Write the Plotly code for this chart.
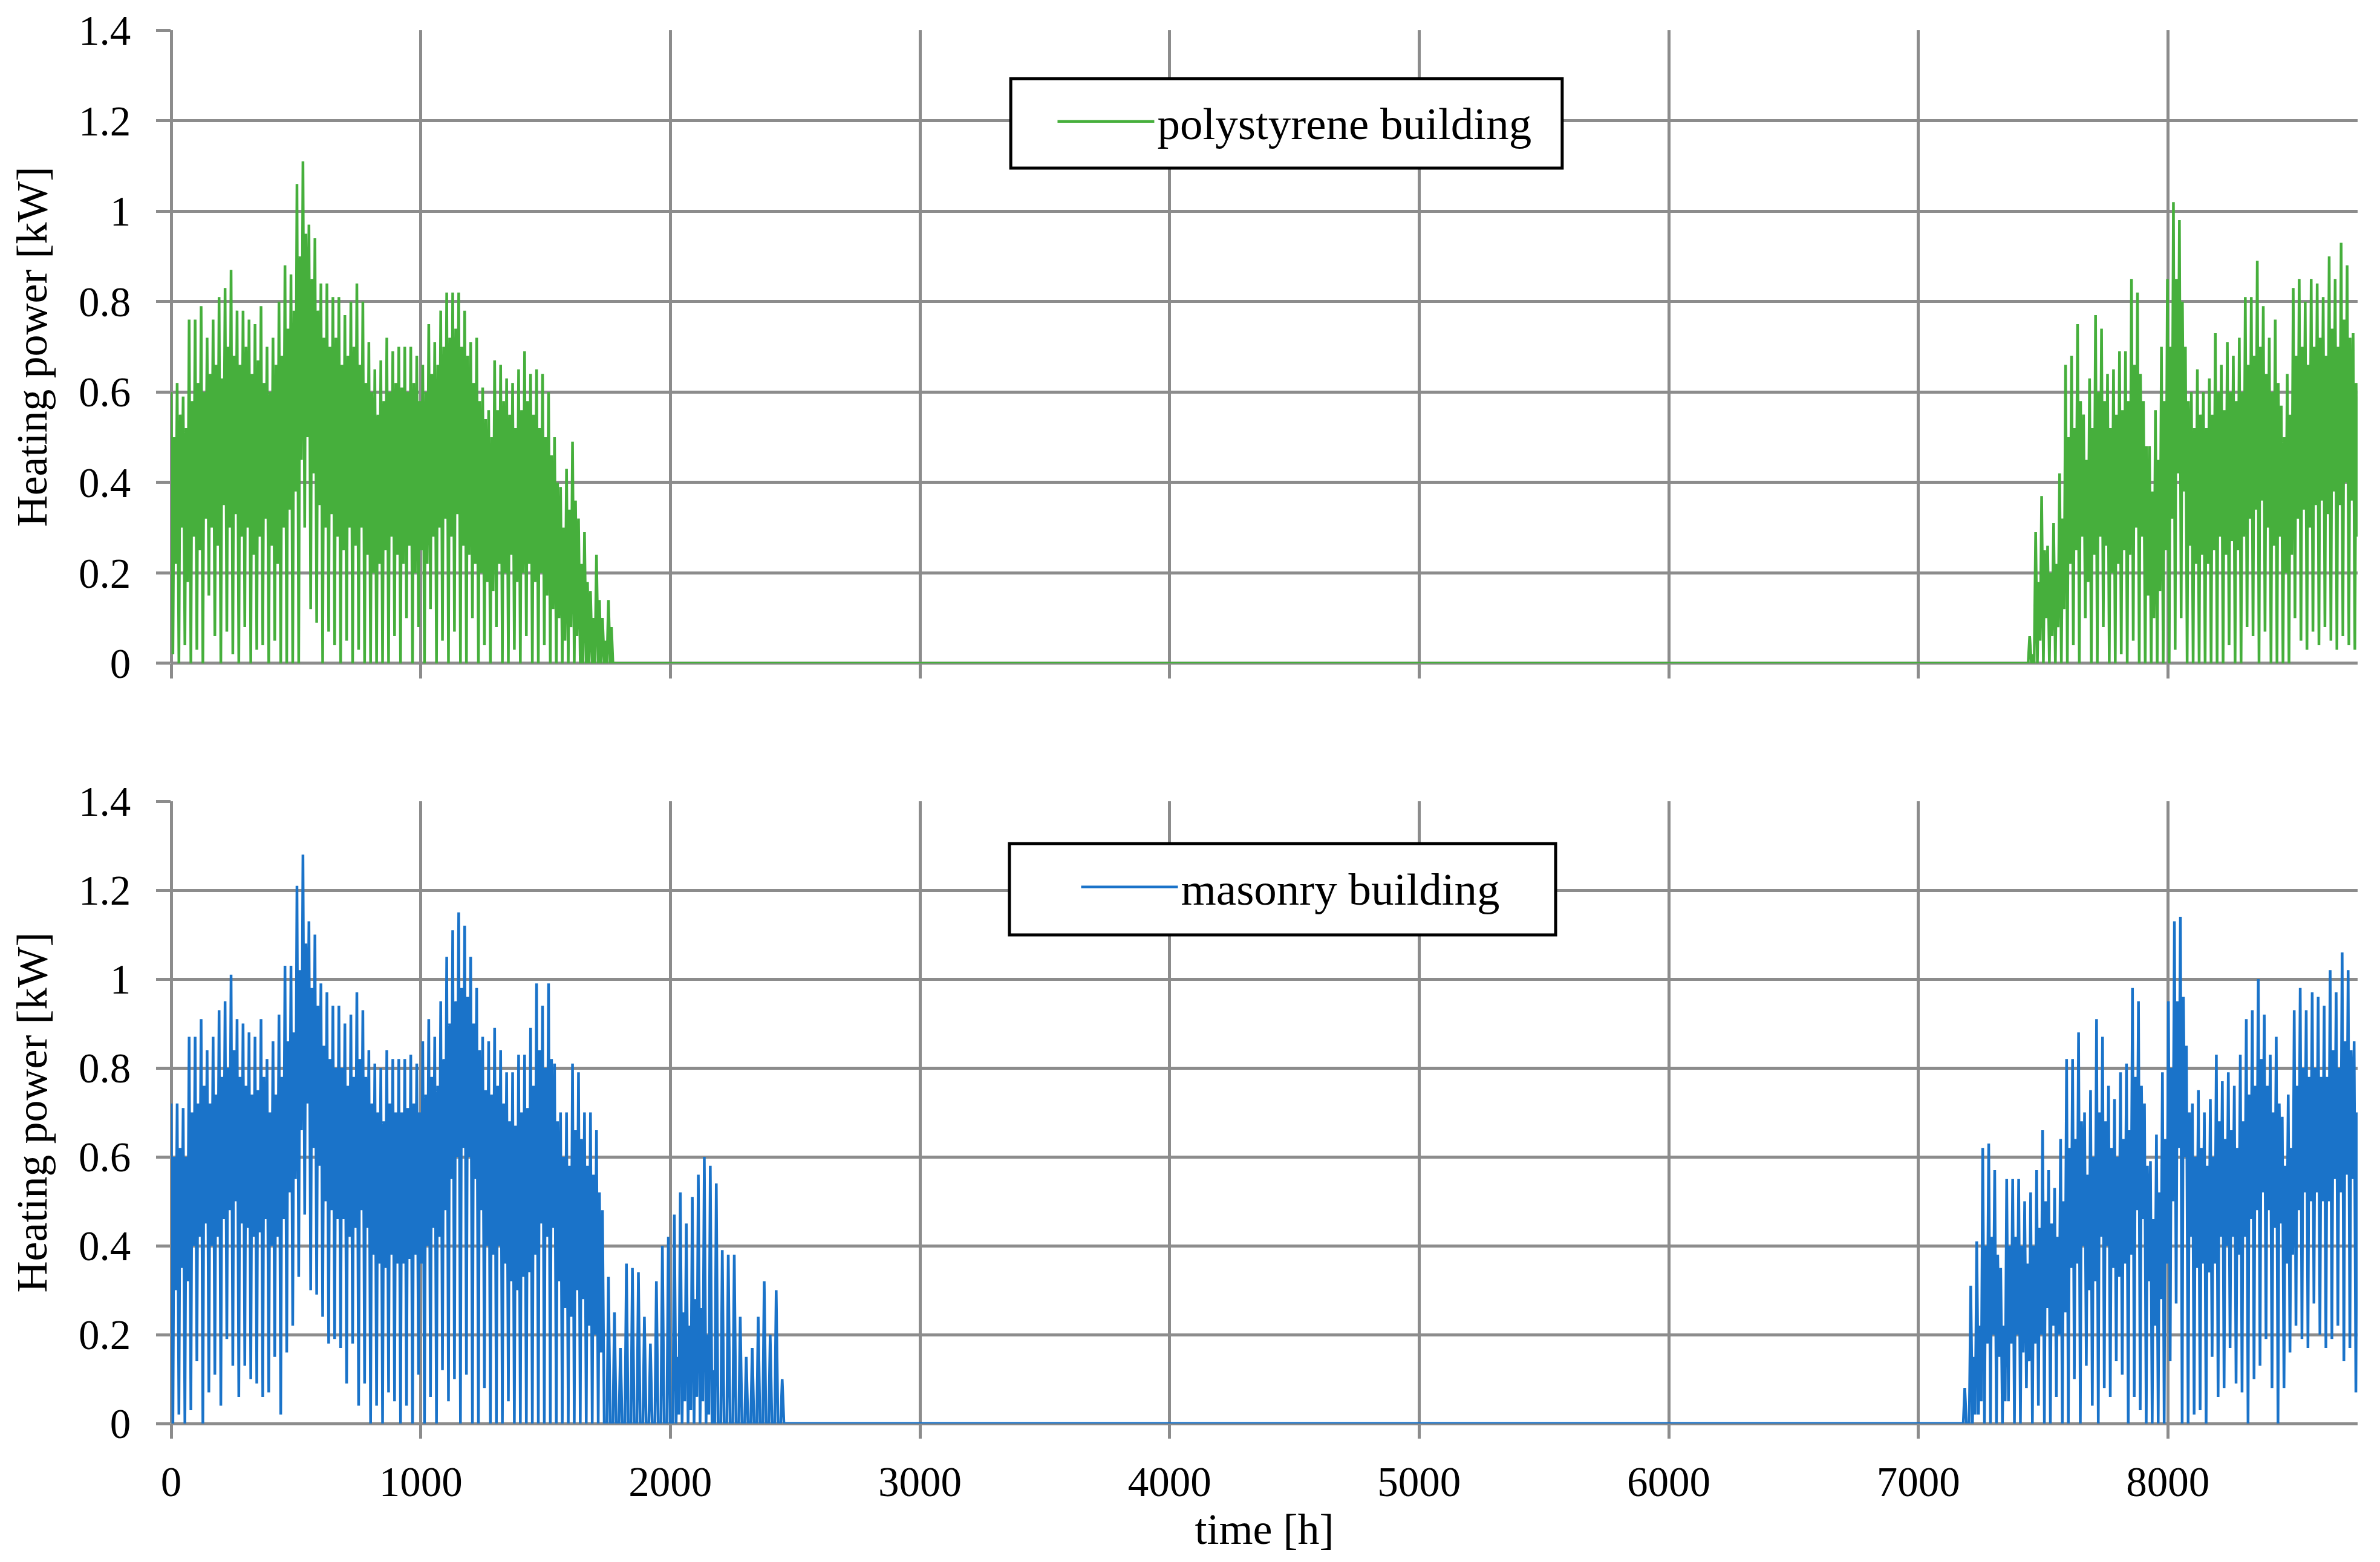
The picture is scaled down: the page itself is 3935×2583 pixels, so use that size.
import plotly.graph_objects as go

# ---------------- data ----------------
YEAR_END_H = 8760
X_TICKS = [0, 1000, 2000, 3000, 4000, 5000, 6000, 7000, 8000]
Y_TICKS = [0, 0.2, 0.4, 0.6, 0.8, 1.0, 1.2, 1.4]

# Each heating day is described by four readings [kW]:
# main peak, main dip, second (smaller) peak, second dip.
poly_season_starts = [0, 7446]
poly_peak1_winter = [
    0.60, 0.62, 0.59, 0.76, 0.76, 0.79, 0.72, 0.76, 0.81, 0.83,
    0.87, 0.78, 0.78, 0.76, 0.75, 0.79, 0.70, 0.72, 0.80, 0.88,
    0.86, 1.06, 1.11, 0.97, 0.94, 0.84, 0.84, 0.81, 0.81, 0.77,
    0.80, 0.84, 0.80, 0.71, 0.65, 0.67, 0.72, 0.69, 0.70, 0.70,
    0.70, 0.68, 0.66, 0.75, 0.71, 0.78, 0.82, 0.82, 0.82, 0.78,
    0.71, 0.72, 0.61, 0.56, 0.67, 0.66, 0.63, 0.62, 0.65, 0.69,
    0.64, 0.65, 0.64, 0.60, 0.50, 0.39, 0.43, 0.49, 0.32, 0.29,
    0.16, 0.24, 0.10, 0.14]
poly_dip1_winter = [
    0.02, 0.00, 0.04, 0.00, 0.03, 0.00, 0.15, 0.06, 0.00, 0.07,
    0.02, 0.00, 0.08, 0.00, 0.03, 0.04, 0.00, 0.05, 0.00, 0.00,
    0.00, 0.00, 0.30, 0.12, 0.09, 0.00, 0.07, 0.04, 0.00, 0.05,
    0.00, 0.03, 0.00, 0.00, 0.00, 0.00, 0.00, 0.06, 0.00, 0.10,
    0.00, 0.08, 0.00, 0.12, 0.00, 0.05, 0.00, 0.07, 0.00, 0.00,
    0.10, 0.00, 0.04, 0.00, 0.08, 0.00, 0.00, 0.03, 0.00, 0.06,
    0.00, 0.00, 0.04, 0.00, 0.00, 0.00, 0.00, 0.00, 0.00, 0.00,
    0.00, 0.00, 0.00, 0.00]
poly_peak2_winter = [
    0.50, 0.55, 0.52, 0.58, 0.62, 0.60, 0.64, 0.66, 0.63, 0.70,
    0.68, 0.66, 0.70, 0.64, 0.67, 0.62, 0.60, 0.66, 0.68, 0.74,
    0.78, 0.90, 0.95, 0.85, 0.78, 0.72, 0.70, 0.72, 0.66, 0.68,
    0.70, 0.66, 0.62, 0.60, 0.55, 0.58, 0.60, 0.62, 0.61, 0.60,
    0.62, 0.58, 0.60, 0.64, 0.66, 0.70, 0.72, 0.74, 0.70, 0.68,
    0.62, 0.58, 0.54, 0.50, 0.56, 0.58, 0.55, 0.52, 0.56, 0.58,
    0.55, 0.52, 0.50, 0.46, 0.40, 0.30, 0.34, 0.36, 0.22, 0.18,
    0.10, 0.14, 0.05, 0.08]
poly_dip2_winter = [
    0.22, 0.30, 0.18, 0.28, 0.25, 0.32, 0.30, 0.26, 0.35, 0.30,
    0.33, 0.28, 0.30, 0.24, 0.28, 0.32, 0.26, 0.22, 0.30, 0.34,
    0.38, 0.45, 0.50, 0.42, 0.35, 0.30, 0.33, 0.28, 0.25, 0.30,
    0.26, 0.30, 0.24, 0.20, 0.22, 0.25, 0.28, 0.24, 0.22, 0.26,
    0.20, 0.25, 0.22, 0.28, 0.30, 0.32, 0.28, 0.33, 0.26, 0.24,
    0.22, 0.20, 0.18, 0.16, 0.22, 0.20, 0.24, 0.18, 0.20, 0.22,
    0.18, 0.20, 0.15, 0.12, 0.10, 0.05, 0.08, 0.06, 0.00, 0.00,
    0.00, 0.00, 0.00, 0.00]
poly_peak1_autumn = [
    0.06, 0.29, 0.37, 0.26, 0.31, 0.42, 0.66, 0.68, 0.75, 0.55,
    0.63, 0.77, 0.74, 0.64, 0.65, 0.69, 0.69, 0.85, 0.82, 0.58,
    0.48, 0.56, 0.70, 0.85, 1.02, 0.98, 0.70, 0.60, 0.65, 0.60,
    0.63, 0.73, 0.66, 0.71, 0.68, 0.72, 0.81, 0.81, 0.89, 0.79,
    0.72, 0.76, 0.57, 0.64, 0.83, 0.85, 0.80, 0.85, 0.84, 0.81,
    0.90, 0.85, 0.93, 0.88, 0.73]
poly_dip1_autumn = [
    0.00, 0.00, 0.00, 0.00, 0.00, 0.00, 0.00, 0.04, 0.00, 0.10,
    0.00, 0.00, 0.08, 0.00, 0.00, 0.02, 0.00, 0.05, 0.00, 0.00,
    0.00, 0.00, 0.00, 0.00, 0.03, 0.10, 0.00, 0.00, 0.00, 0.00,
    0.00, 0.00, 0.00, 0.04, 0.00, 0.00, 0.08, 0.06, 0.00, 0.07,
    0.00, 0.00, 0.00, 0.00, 0.10, 0.05, 0.03, 0.07, 0.04, 0.08,
    0.05, 0.03, 0.06, 0.04, 0.03]
poly_peak2_autumn = [
    0.02, 0.18, 0.25, 0.20, 0.22, 0.32, 0.50, 0.52, 0.58, 0.45,
    0.52, 0.60, 0.58, 0.52, 0.55, 0.56, 0.58, 0.66, 0.64, 0.48,
    0.38, 0.45, 0.58, 0.70, 0.85, 0.80, 0.58, 0.52, 0.55, 0.52,
    0.55, 0.60, 0.56, 0.60, 0.58, 0.60, 0.66, 0.68, 0.70, 0.64,
    0.60, 0.62, 0.50, 0.55, 0.68, 0.70, 0.66, 0.70, 0.72, 0.68,
    0.74, 0.70, 0.76, 0.72, 0.62]
poly_dip2_autumn = [
    0.00, 0.05, 0.10, 0.06, 0.08, 0.12, 0.22, 0.25, 0.28, 0.18,
    0.24, 0.28, 0.26, 0.20, 0.22, 0.25, 0.24, 0.30, 0.28, 0.15,
    0.10, 0.16, 0.25, 0.32, 0.42, 0.38, 0.26, 0.22, 0.24, 0.22,
    0.25, 0.28, 0.24, 0.27, 0.25, 0.28, 0.32, 0.34, 0.36, 0.30,
    0.26, 0.28, 0.20, 0.24, 0.32, 0.34, 0.30, 0.35, 0.36, 0.33,
    0.38, 0.35, 0.40, 0.36, 0.28]

mas_season_starts = [0, 7186]
mas_peak1_winter = [
    0.72, 0.72, 0.71, 0.87, 0.87, 0.91, 0.84, 0.87, 0.93, 0.95,
    1.01, 0.91, 0.90, 0.88, 0.87, 0.91, 0.82, 0.86, 0.92, 1.03,
    1.03, 1.21, 1.28, 1.13, 1.10, 0.99, 0.97, 0.94, 0.94, 0.90,
    0.92, 0.97, 0.93, 0.84, 0.81, 0.80, 0.84, 0.82, 0.82, 0.82,
    0.83, 0.81, 0.86, 0.91, 0.87, 0.95, 1.05, 1.11, 1.15, 1.12,
    1.05, 0.98, 0.87, 0.86, 0.89, 0.84, 0.79, 0.79, 0.83, 0.83,
    0.89, 0.99, 0.94, 0.99, 0.81, 0.70, 0.70, 0.81, 0.79, 0.70,
    0.70, 0.66, 0.48, 0.33, 0.25, 0.17, 0.36, 0.35, 0.34, 0.24,
    0.18, 0.32, 0.40, 0.42, 0.47, 0.52, 0.45, 0.51, 0.56, 0.60,
    0.58, 0.54, 0.39, 0.38, 0.38, 0.24, 0.15, 0.17, 0.24, 0.32,
    0.20, 0.30, 0.10]
mas_dip1_winter = [
    0.00, 0.02, 0.00, 0.03, 0.14, 0.00, 0.07, 0.11, 0.04, 0.19,
    0.13, 0.06, 0.13, 0.10, 0.09, 0.06, 0.07, 0.15, 0.02, 0.16,
    0.22, 0.33, 0.47, 0.30, 0.29, 0.24, 0.18, 0.19, 0.17, 0.09,
    0.18, 0.04, 0.09, 0.00, 0.04, 0.00, 0.07, 0.05, 0.00, 0.04,
    0.00, 0.11, 0.00, 0.06, 0.00, 0.12, 0.05, 0.10, 0.00, 0.11,
    0.00, 0.00, 0.08, 0.00, 0.00, 0.00, 0.05, 0.00, 0.00, 0.00,
    0.00, 0.00, 0.00, 0.00, 0.00, 0.00, 0.00, 0.00, 0.00, 0.00,
    0.00, 0.00, 0.00, 0.00, 0.00, 0.00, 0.00, 0.00, 0.00, 0.00,
    0.00, 0.00, 0.00, 0.00, 0.00, 0.00, 0.00, 0.00, 0.00, 0.00,
    0.00, 0.00, 0.00, 0.00, 0.00, 0.00, 0.00, 0.00, 0.00, 0.00,
    0.00, 0.00, 0.00]
mas_peak2_winter = [
    0.60, 0.62, 0.60, 0.70, 0.72, 0.76, 0.72, 0.74, 0.78, 0.80,
    0.84, 0.78, 0.76, 0.74, 0.75, 0.78, 0.70, 0.74, 0.78, 0.86,
    0.88, 1.02, 1.08, 0.98, 0.94, 0.85, 0.82, 0.80, 0.80, 0.76,
    0.78, 0.82, 0.78, 0.72, 0.70, 0.68, 0.72, 0.70, 0.70, 0.71,
    0.72, 0.70, 0.74, 0.78, 0.76, 0.82, 0.90, 0.95, 0.98, 0.96,
    0.90, 0.84, 0.75, 0.74, 0.76, 0.72, 0.68, 0.67, 0.70, 0.71,
    0.76, 0.84, 0.80, 0.82, 0.68, 0.60, 0.58, 0.66, 0.64, 0.58,
    0.56, 0.52, 0.00, 0.00, 0.00, 0.00, 0.00, 0.00, 0.00, 0.00,
    0.00, 0.00, 0.00, 0.00, 0.15, 0.25, 0.22, 0.28, 0.26, 0.20,
    0.12, 0.00, 0.00, 0.00, 0.00, 0.00, 0.00, 0.00, 0.00, 0.00,
    0.00, 0.00, 0.00]
mas_dip2_winter = [
    0.30, 0.35, 0.32, 0.40, 0.42, 0.45, 0.40, 0.42, 0.46, 0.48,
    0.50, 0.45, 0.44, 0.42, 0.43, 0.46, 0.40, 0.42, 0.46, 0.52,
    0.55, 0.66, 0.72, 0.62, 0.58, 0.50, 0.48, 0.46, 0.46, 0.42,
    0.44, 0.48, 0.44, 0.38, 0.36, 0.35, 0.38, 0.36, 0.36, 0.37,
    0.38, 0.36, 0.40, 0.44, 0.42, 0.48, 0.55, 0.60, 0.62, 0.60,
    0.55, 0.48, 0.40, 0.38, 0.40, 0.36, 0.32, 0.30, 0.33, 0.34,
    0.38, 0.45, 0.42, 0.44, 0.32, 0.26, 0.24, 0.30, 0.28, 0.22,
    0.20, 0.16, 0.00, 0.00, 0.00, 0.00, 0.00, 0.00, 0.00, 0.00,
    0.00, 0.00, 0.00, 0.00, 0.02, 0.05, 0.03, 0.06, 0.05, 0.02,
    0.00, 0.00, 0.00, 0.00, 0.00, 0.00, 0.00, 0.00, 0.00, 0.00,
    0.00, 0.00, 0.00]
mas_peak1_autumn = [
    0.08, 0.31, 0.41, 0.62, 0.63, 0.57, 0.35, 0.55, 0.55, 0.55,
    0.50, 0.52, 0.57, 0.66, 0.57, 0.53, 0.64, 0.82, 0.82, 0.88,
    0.70, 0.75, 0.91, 0.87, 0.76, 0.73, 0.79, 0.81, 0.98, 0.95,
    0.72, 0.59, 0.65, 0.79, 0.95, 1.13, 1.14, 0.85, 0.72, 0.75,
    0.70, 0.73, 0.83, 0.77, 0.79, 0.76, 0.83, 0.91, 0.93, 1.00,
    0.92, 0.83, 0.87, 0.69, 0.74, 0.93, 0.98, 0.93, 0.97, 0.96,
    0.94, 1.02, 0.97, 1.06, 1.02, 0.86]
mas_dip1_autumn = [
    0.00, 0.00, 0.02, 0.00, 0.00, 0.00, 0.00, 0.05, 0.00, 0.00,
    0.08, 0.00, 0.04, 0.00, 0.00, 0.06, 0.00, 0.00, 0.10, 0.00,
    0.13, 0.04, 0.00, 0.08, 0.06, 0.14, 0.11, 0.00, 0.06, 0.03,
    0.00, 0.00, 0.00, 0.00, 0.14, 0.27, 0.00, 0.00, 0.02, 0.03,
    0.00, 0.15, 0.06, 0.08, 0.17, 0.09, 0.07, 0.00, 0.10, 0.13,
    0.19, 0.08, 0.00, 0.08, 0.16, 0.22, 0.19, 0.17, 0.27, 0.20,
    0.17, 0.19, 0.22, 0.14, 0.17, 0.07]
mas_peak2_autumn = [
    0.00, 0.15, 0.22, 0.40, 0.42, 0.38, 0.22, 0.40, 0.42, 0.40,
    0.36, 0.40, 0.44, 0.50, 0.45, 0.42, 0.50, 0.62, 0.64, 0.68,
    0.56, 0.60, 0.70, 0.68, 0.62, 0.60, 0.64, 0.66, 0.78, 0.76,
    0.58, 0.46, 0.52, 0.64, 0.80, 0.95, 0.96, 0.70, 0.60, 0.62,
    0.58, 0.60, 0.68, 0.64, 0.66, 0.62, 0.68, 0.74, 0.76, 0.82,
    0.76, 0.70, 0.72, 0.58, 0.62, 0.76, 0.80, 0.78, 0.80, 0.78,
    0.78, 0.84, 0.80, 0.86, 0.84, 0.70]
mas_dip2_autumn = [
    0.00, 0.02, 0.05, 0.18, 0.20, 0.15, 0.05, 0.18, 0.20, 0.16,
    0.14, 0.18, 0.20, 0.26, 0.22, 0.20, 0.25, 0.35, 0.36, 0.40,
    0.30, 0.32, 0.42, 0.40, 0.35, 0.33, 0.36, 0.38, 0.48, 0.46,
    0.32, 0.22, 0.28, 0.36, 0.50, 0.62, 0.60, 0.42, 0.35, 0.36,
    0.34, 0.36, 0.42, 0.40, 0.42, 0.38, 0.42, 0.46, 0.48, 0.52,
    0.48, 0.44, 0.45, 0.36, 0.38, 0.48, 0.52, 0.50, 0.52, 0.50,
    0.50, 0.55, 0.52, 0.56, 0.55, 0.45]

SERIES_NAMES = ["polystyrene building", "masonry building"]
COLORS = ["#46AF3C", "#1A73C9"]

# hour of the day at which each of the four daily readings is placed
READING_HOURS = [0, 7, 12, 18]


def build_series(starts, seasons):
    """Hourly-axis series: four readings per heating day, zero power between seasons."""
    xs, ys = [], []
    for start, readings in zip(starts, seasons):
        if xs:
            xs.append(start - 6)
            ys.append(0.0)
        for d, day_vals in enumerate(zip(*readings)):
            for hour, val in zip(READING_HOURS, day_vals):
                t = start + 24 * d + hour
                if t <= YEAR_END_H:
                    xs.append(t)
                    ys.append(val)
        end = start + 24 * len(readings[0])
        if end < YEAR_END_H:
            xs.append(end)
            ys.append(0.0)
    return xs, ys


poly_x, poly_y = build_series(
    poly_season_starts,
    [(poly_peak1_winter, poly_dip1_winter, poly_peak2_winter, poly_dip2_winter),
     (poly_peak1_autumn, poly_dip1_autumn, poly_peak2_autumn, poly_dip2_autumn)])
mas_x, mas_y = build_series(
    mas_season_starts,
    [(mas_peak1_winter, mas_dip1_winter, mas_peak2_winter, mas_dip2_winter),
     (mas_peak1_autumn, mas_dip1_autumn, mas_peak2_autumn, mas_dip2_autumn)])

# ---------------- figure ----------------
FONT = "Palatino Linotype, Book Antiqua, Palatino, Liberation Serif, serif"
GRID = "#8C8C8C"
TICK_FS = 69
TITLE_FS = 72
LEG_FS = 75
LINE_W = 4.5

fig = go.Figure()
fig.add_trace(go.Scatter(x=poly_x, y=poly_y, mode="lines", name=SERIES_NAMES[0],
                         line=dict(color=COLORS[0], width=LINE_W, simplify=False),
                         xaxis="x", yaxis="y", legend="legend", showlegend=True))
fig.add_trace(go.Scatter(x=mas_x, y=mas_y, mode="lines", name=SERIES_NAMES[1],
                         line=dict(color=COLORS[1], width=LINE_W, simplify=False),
                         xaxis="x2", yaxis="y2", legend="legend2", showlegend=True))

axis_common = dict(showgrid=True, gridcolor=GRID, gridwidth=5,
                   zeroline=True, zerolinecolor=GRID, zerolinewidth=5,
                   showline=False, ticks="outside", ticklen=24,
                   tickwidth=5, tickcolor=GRID, automargin=False,
                   tickfont=dict(family=FONT, size=TICK_FS, color="black"))

xa = dict(axis_common, range=[0, YEAR_END_H], tickvals=X_TICKS)
ya = dict(axis_common, range=[0, 1.4], tickvals=Y_TICKS, ticklabelstandoff=28,
          title=dict(text="Heating power [kW]",
                     font=dict(family=FONT, size=TITLE_FS, color="black"),
                     standoff=28))

# the page body has an 8 px margin, so the figure is 16 px smaller than the window
fig.update_layout(
    width=3919, height=2567,
    margin=dict(l=275, r=29, t=42, b=221),
    paper_bgcolor="white", plot_bgcolor="white",
    showlegend=True,
    font=dict(family=FONT, size=TICK_FS, color="black"),
    xaxis=dict(xa, domain=[0, 1], anchor="y", showticklabels=False),
    yaxis=dict(ya, domain=[0.5456, 1.0], anchor="x"),
    xaxis2=dict(xa, domain=[0, 1], anchor="y2", ticklabelstandoff=12,
                title=dict(text="time [h]",
                           font=dict(family=FONT, size=TITLE_FS, color="black"),
                           standoff=8)),
    yaxis2=dict(ya, domain=[0.0, 0.4466], anchor="x2"),
    legend=dict(x=0.4040, y=0.9345, xanchor="left", yanchor="middle", visible=True,
                bgcolor="rgba(0,0,0,0)", borderwidth=0, itemwidth=160,
                font=dict(family=FONT, size=LEG_FS, color="black")),
    legend2=dict(x=0.4148, y=0.3850, xanchor="left", yanchor="middle", visible=True,
                 bgcolor="rgba(0,0,0,0)", borderwidth=0, itemwidth=160,
                 font=dict(family=FONT, size=LEG_FS, color="black")),
    shapes=[
        dict(type="rect", xref="paper", yref="paper", x0=0.3840, x1=0.6362,
             y0=0.9010, y1=0.9653, line=dict(color="black", width=5),
             fillcolor="white", layer="above"),
        dict(type="rect", xref="paper", yref="paper", x0=0.3834, x1=0.6332,
             y0=0.3507, y1=0.4162, line=dict(color="black", width=5),
             fillcolor="white", layer="above"),
    ],
)

fig.write_html("out.html")
